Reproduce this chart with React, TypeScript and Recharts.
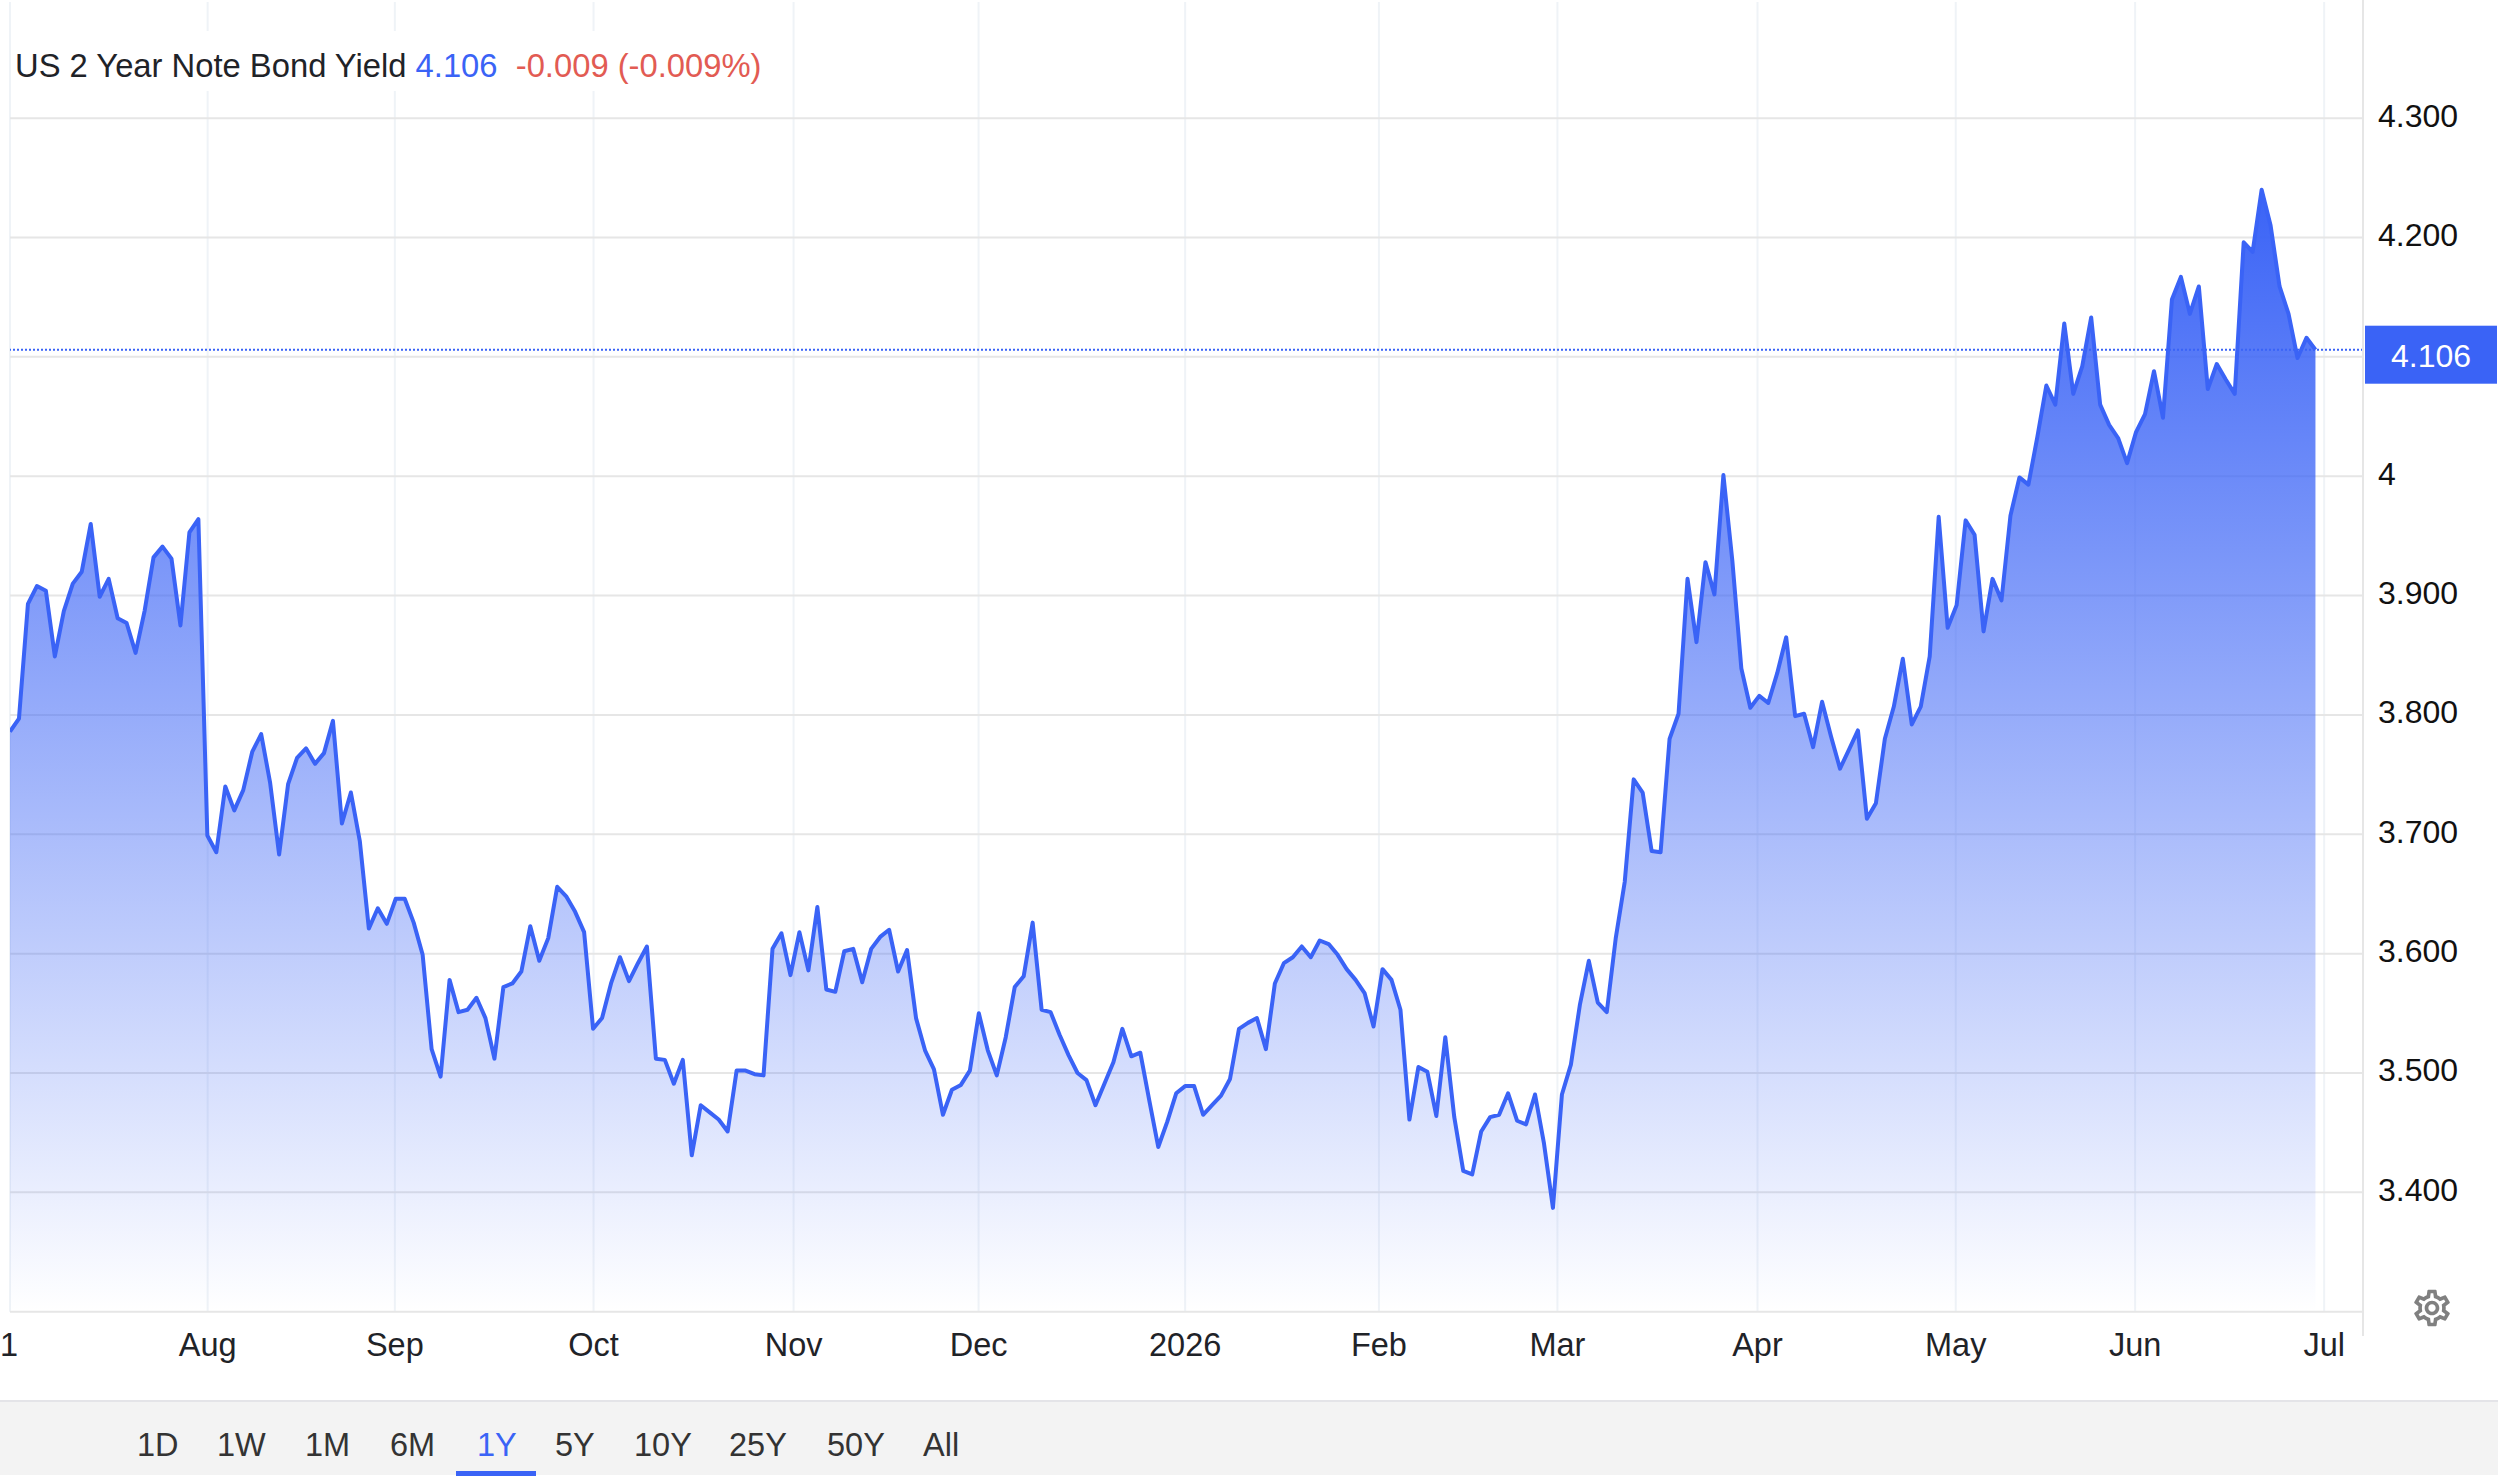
import React from 'react';
import { ComposedChart, Area, XAxis, YAxis, CartesianGrid, ReferenceLine } from 'recharts';

// daily closes, Jul 2025 -> Jun 2026
const yields = [
  3.786, 3.797, 3.893, 3.908, 3.904, 3.849, 3.887, 3.91, 3.92, 3.96, 3.899, 3.914, 3.881, 3.877, 3.852, 3.887,
  3.932, 3.941, 3.931, 3.875, 3.953, 3.964, 3.699, 3.685, 3.74, 3.72, 3.737, 3.769, 3.784, 3.743, 3.683, 3.742,
  3.764, 3.772, 3.759, 3.768, 3.795, 3.709, 3.735, 3.694, 3.621, 3.638, 3.625, 3.646, 3.646, 3.626, 3.599, 3.52,
  3.497, 3.578, 3.551, 3.553, 3.563, 3.546, 3.512, 3.572, 3.575, 3.585, 3.623, 3.594, 3.613, 3.656, 3.648, 3.635,
  3.618, 3.537, 3.546, 3.575, 3.597, 3.577, 3.592, 3.606, 3.512, 3.511, 3.491, 3.511, 3.431, 3.473, 3.467, 3.461,
  3.451, 3.502, 3.502, 3.499, 3.498, 3.604, 3.617, 3.582, 3.618, 3.586, 3.639, 3.57, 3.568, 3.602, 3.604, 3.576,
  3.604, 3.614, 3.62, 3.585, 3.603, 3.546, 3.519, 3.503, 3.465, 3.486, 3.49, 3.502, 3.55, 3.519, 3.498, 3.53,
  3.572, 3.581, 3.626, 3.553, 3.551, 3.532, 3.515, 3.5, 3.494, 3.473, 3.491, 3.509, 3.537, 3.514, 3.517, 3.477,
  3.438, 3.459, 3.483, 3.489, 3.489, 3.465, 3.473, 3.481, 3.495, 3.537, 3.542, 3.546, 3.52, 3.575, 3.592, 3.597,
  3.606, 3.597, 3.611, 3.608, 3.599, 3.587, 3.578, 3.567, 3.539, 3.587, 3.578, 3.553, 3.461, 3.505, 3.501, 3.464,
  3.53, 3.463, 3.418, 3.415, 3.451, 3.463, 3.465, 3.483, 3.46, 3.457, 3.482, 3.441, 3.387, 3.482, 3.507, 3.557,
  3.594, 3.559, 3.551, 3.613, 3.66, 3.746, 3.735, 3.686, 3.685, 3.78, 3.801, 3.914, 3.861, 3.928, 3.901, 4.001,
  3.929, 3.839, 3.806, 3.816, 3.81, 3.835, 3.865, 3.799, 3.801, 3.773, 3.811, 3.782, 3.755, 3.771, 3.787, 3.713,
  3.726, 3.78, 3.807, 3.847, 3.792, 3.807, 3.849, 3.966, 3.873, 3.892, 3.963, 3.951, 3.87, 3.914, 3.896, 3.967,
  3.999, 3.993, 4.033, 4.076, 4.06, 4.128, 4.069, 4.092, 4.133, 4.06, 4.043, 4.032, 4.011, 4.037, 4.052, 4.088,
  4.049, 4.148, 4.167, 4.136, 4.159, 4.073, 4.094, 4.081, 4.069, 4.196, 4.188, 4.24, 4.21, 4.159, 4.136, 4.099,
  4.116, 4.106,
];

// month starts in trading-day index
const monthTicks = [0, 22.03, 42.9, 65.05, 87.35, 107.97, 131, 152.6, 172.5, 194.8, 216.9, 236.9, 257.97];
const monthLabels = ['1', 'Aug', 'Sep', 'Oct', 'Nov', 'Dec', '2026', 'Feb', 'Mar', 'Apr', 'May', 'Jun', 'Jul'];
const priceTicks = [3.3, 3.4, 3.5, 3.6, 3.7, 3.8, 3.9, 4, 4.1, 4.2, 4.3];
const priceLabels = ['', '3.400', '3.500', '3.600', '3.700', '3.800', '3.900', '4', '', '4.200', '4.300'];
const ranges = ['1D', '1W', '1M', '6M', '1Y', '5Y', '10Y', '25Y', '50Y', 'All'];
const rangeLeft = [137, 217, 305, 390, 477, 555, 634, 729, 827, 923];

const lastValue = 4.106;
const BLUE = '#3a63f6';
const FONT = '"Liberation Sans", Arial, sans-serif';

const data = yields.map((y, i) => ({ i, y }));

const MonthTick = (props: any) => {
  const idx = monthTicks.indexOf(props.payload.value);
  const dx = idx === 0 ? -1 : 0;
  return (
    <text x={props.x + dx} y={1356} textAnchor="middle" fontSize={32.5} fontFamily={FONT} fill="#1f2328">
      {monthLabels[idx]}
    </text>
  );
};

const PriceTick = (props: any) => {
  const idx = priceTicks.indexOf(props.payload.value);
  return (
    <text x={2378} y={props.y + 8.5} textAnchor="start" fontSize={32} fontFamily={FONT} fill="#111">
      {priceLabels[idx]}
    </text>
  );
};

const LastLabel = (props: any) => {
  const y = props.viewBox.y;
  return (
    <g>
      <rect x={2365} y={y - 24} width={132} height={58} fill={BLUE} />
      <text x={2431} y={y + 17} textAnchor="middle" fontSize={32} fontFamily={FONT} fill="#fff">
        {lastValue}
      </text>
    </g>
  );
};

const GEAR =
  'M19.43 12.98c.04-.32.07-.64.07-.98 0-.34-.03-.66-.07-.98l2.11-1.65c.19-.15.24-.42.12-.64l-2-3.46c-.09-.16-.26-.25-.44-.25-.06 0-.12.01-.17.03l-2.49 1c-.52-.4-1.08-.73-1.69-.98l-.38-2.65C14.46 2.18 14.25 2 14 2h-4c-.25 0-.46.18-.49.42l-.38 2.65c-.61.25-1.17.59-1.69.98l-2.49-1c-.06-.02-.12-.03-.18-.03-.17 0-.34.09-.43.25l-2 3.46c-.13.22-.07.49.12.64l2.11 1.65c-.04.32-.07.65-.07.98 0 .33.03.66.07.98l-2.11 1.65c-.19.15-.24.42-.12.64l2 3.46c.09.16.26.25.44.25.06 0 .12-.01.17-.03l2.49-1c.52.4 1.08.73 1.69.98l.38 2.65c.03.24.24.42.49.42h4c.25 0 .46-.18.49-.42l.38-2.65c.61-.25 1.17-.59 1.69-.98l2.49 1c.06.02.12.03.18.03.17 0 .34-.09.43-.25l2-3.46c.12-.22.07-.49-.12-.64l-2.11-1.65zm-1.98-1.71c.04.31.05.52.05.73 0 .21-.02.43-.05.73l-.14 1.13.89.7 1.08.84-.7 1.21-1.27-.51-1.04-.42-.9.68c-.43.32-.84.56-1.25.73l-1.06.43-.16 1.13-.2 1.35h-1.4l-.19-1.35-.16-1.13-1.06-.43c-.43-.18-.83-.41-1.23-.71l-.91-.7-1.06.43-1.27.51-.7-1.21 1.08-.84.89-.7-.14-1.13c-.03-.31-.05-.54-.05-.74s.02-.43.05-.73l.14-1.13-.89-.7-1.08-.84.7-1.21 1.27.51 1.04.42.9-.68c.43-.32.84-.56 1.25-.73l1.06-.43.16-1.13.2-1.35h1.39l.19 1.35.16 1.13 1.06.43c.43.18.83.41 1.23.71l.91.7 1.06-.43 1.27-.51.7 1.21-1.07.85-.89.7.14 1.13zM12 8c-2.21 0-4 1.79-4 4s1.79 4 4 4 4-1.79 4-4-1.79-4-4-4zm0 6c-1.1 0-2-.9-2-2s.9-2 2-2 2 .9 2 2-.9 2-2 2z';

const App: React.FC = () => {
  return (
    <div style={{ position: 'fixed', left: 0, top: 0, width: 2500, height: 1477, background: '#fff', overflow: 'hidden', fontFamily: FONT }}>
      <ComposedChart width={2500} height={1477} data={data} margin={{ top: 0, right: 0, bottom: 0, left: 10 }}>
        <defs>
          <linearGradient id="yieldFill" x1="0" y1="0" x2="0" y2="1">
            <stop offset="0%" stopColor={BLUE} stopOpacity={1} />
            <stop offset="100%" stopColor={BLUE} stopOpacity={0} />
          </linearGradient>
        </defs>
        <CartesianGrid horizontal={false} vertical stroke="#eff3f7" strokeWidth={2} />
        <CartesianGrid horizontal vertical={false} stroke="#e6e6e6" strokeWidth={2} />
        <XAxis
          dataKey="i"
          type="number"
          domain={[0, 262.3]}
          ticks={monthTicks}
          interval={0}
          height={165.3}
          tick={MonthTick}
          tickLine={false}
          axisLine={false}
          allowDataOverflow
        />
        <YAxis
          orientation="right"
          type="number"
          domain={[3.3, 4.399]}
          ticks={priceTicks}
          interval={0}
          width={137}
          tick={PriceTick}
          tickLine={false}
          axisLine={false}
          allowDataOverflow
        />
        <Area
          type="linear"
          dataKey="y"
          stroke={BLUE}
          strokeWidth={4}
          strokeLinejoin="round"
          fill="url(#yieldFill)"
          fillOpacity={1}
          dot={false}
          activeDot={false}
          isAnimationActive={false}
        />
        <ReferenceLine y={lastValue} stroke={BLUE} strokeWidth={2} strokeDasharray="2 2" label={LastLabel} />
      </ComposedChart>

      {/* no grid line along the very top edge */}
      <div style={{ position: 'absolute', left: 0, top: 0, width: 2500, height: 2, background: '#fff' }} />

      {/* right axis runs a bit past the plot */}
      <div style={{ position: 'absolute', left: 2362, top: 0, width: 2, height: 1336, background: '#e6e6e6' }} />

      {/* title sits on a white box over the grid */}
      <div style={{ position: 'absolute', left: 11, top: 31, width: 760, height: 60, background: '#fff' }} />
      <div style={{ position: 'absolute', left: 15, top: 47, fontSize: 32.75, lineHeight: '37px', whiteSpace: 'pre', color: '#1f2328' }}>
        US 2 Year Note Bond Yield <span style={{ color: BLUE }}>4.106</span>
        <span style={{ color: '#e25b53' }}>{'  -0.009 (-0.009%)'}</span>
      </div>

      <svg style={{ position: 'absolute', left: 2410, top: 1286 }} width={44} height={44} viewBox="0 0 24 24">
        <path d={GEAR} fill="#808080" />
      </svg>

      {/* range buttons */}
      <div style={{ position: 'absolute', left: 0, top: 1400, width: 2498, height: 75, background: '#f3f3f3', borderTop: '2px solid #e4e4e8', boxSizing: 'border-box' }} />
      {ranges.map((r, i) => (
        <div key={r} style={{ position: 'absolute', left: rangeLeft[i], top: 1427, fontSize: 32.5, lineHeight: '37px', color: r === '1Y' ? BLUE : '#333' }}>
          {r}
        </div>
      ))}
      <div style={{ position: 'absolute', left: 456, top: 1471, width: 80, height: 5, background: BLUE }} />
    </div>
  );
};

export default App;
